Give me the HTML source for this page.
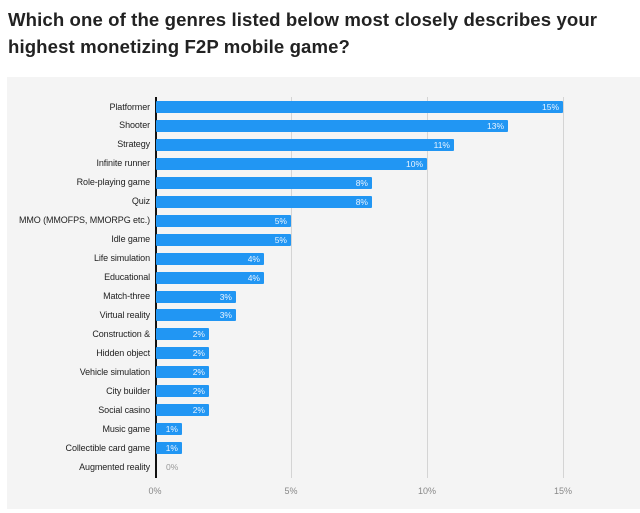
<!DOCTYPE html>
<html><head><style>
body{margin:0;width:640px;height:513px;background:#fff;font-family:"Liberation Sans",sans-serif;position:relative;overflow:hidden}
.t{position:absolute;left:8px;top:6px;font-size:18.6px;font-weight:bold;color:#222;line-height:27px;letter-spacing:0.1px}
.p{position:absolute;left:7px;top:77px;width:633px;height:432px;background:#f4f4f4}
.l{position:absolute;right:490px;font-size:9px;color:#222;white-space:nowrap;letter-spacing:-0.1px}
.b{position:absolute;left:156px;height:12px;background:#2196f3;border-radius:1px}
.v{position:absolute;font-size:8.5px;color:#e8f3ff;text-align:right}
.g{position:absolute;top:97px;width:1px;height:381px;background:#d4d4d4}
.x{position:absolute;top:486px;font-size:9px;color:#888;width:40px;text-align:center}
</style></head><body>
<div class="t">Which one of the genres listed below most closely describes your<br>highest monetizing F2P mobile game?</div>
<div class="p"></div>
<div class="g" style="left:291px"></div><div class="g" style="left:427px"></div><div class="g" style="left:563px"></div>
<div style="position:absolute;left:155px;top:97px;width:1.5px;height:381px;background:#111"></div>
<div id="c"></div>
<div class="x" style="left:135px">0%</div><div class="x" style="left:271px">5%</div><div class="x" style="left:407px">10%</div><div class="x" style="left:543px">15%</div>
<script>
var d=[["Platformer",15,563],["Shooter",13,508],["Strategy",11,454],["Infinite runner",10,427],["Role-playing game",8,372],["Quiz",8,372],["MMO (MMOFPS, MMORPG etc.)",5,291],["Idle game",5,291],["Life simulation",4,264],["Educational",4,264],["Match-three",3,236],["Virtual reality",3,236],["Construction &amp;",2,209],["Hidden object",2,209],["Vehicle simulation",2,209],["City builder",2,209],["Social casino",2,209],["Music game",1,182],["Collectible card game",1,182],["Augmented reality",0,156]];
var h="";d.forEach(function(e,i){var y=107+i*18.95;
h+='<div class="l" style="top:'+(y-5.5)+'px">'+e[0]+'</div>';
if(e[1]>0){h+='<div class="b" style="top:'+(y-6)+'px;width:'+(e[2]-156)+'px"></div><div class="v" style="top:'+(y-5)+'px;left:'+(e[2]-40)+'px;width:36px">'+e[1]+'%</div>';}
else h+='<div class="v" style="top:'+(y-5)+'px;left:166px;color:#999">0%</div>';});
document.getElementById("c").innerHTML=h;
</script>
</body></html>
